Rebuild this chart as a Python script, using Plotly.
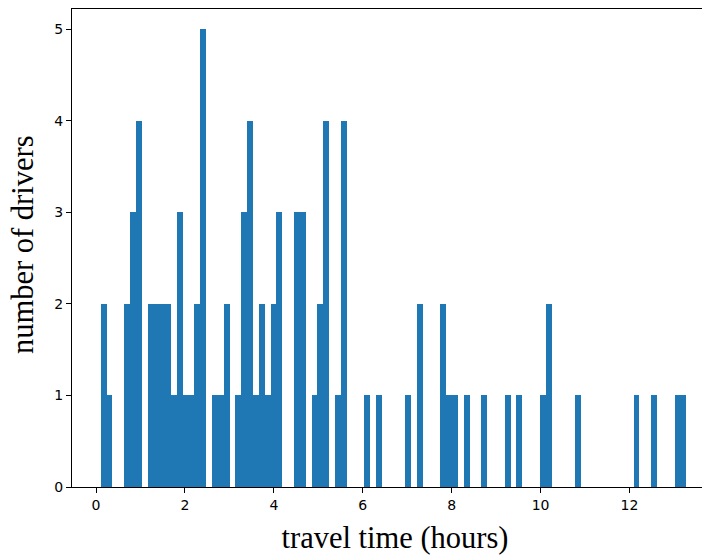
import plotly.graph_objects as go

# histogram data (travel time in hours): 100 equal bins
bin_start = 0.106
bin_width = 0.1317
counts = [2, 1, 0, 0, 2, 3, 4, 0, 2, 2,
          2, 2, 1, 3, 1, 1, 2, 5, 0, 1,
          1, 2, 0, 1, 3, 4, 1, 2, 1, 2,
          3, 0, 0, 3, 3, 0, 1, 2, 4, 0,
          1, 4, 0, 0, 0, 1, 0, 1, 0, 0,
          0, 0, 1, 0, 2, 0, 0, 0, 2, 1,
          1, 0, 1, 0, 0, 1, 0, 0, 0, 1,
          0, 1, 0, 0, 0, 1, 2, 0, 0, 0,
          0, 1, 0, 0, 0, 0, 0, 0, 0, 0,
          0, 1, 0, 0, 1, 0, 0, 0, 1, 1]
x_ticks = [0, 2, 4, 6, 8, 10, 12]
y_ticks = [0, 1, 2, 3, 4, 5]
x_title = "travel time (hours)"
y_title = "number of drivers"

centers = [bin_start + bin_width * (i + 0.5) for i in range(len(counts))]

fig = go.Figure(go.Bar(
    x=centers, y=counts, width=[bin_width] * len(counts),
    marker=dict(color="#1f77b4", line=dict(width=0)),
    hoverinfo="x+y",
))

tickfont = dict(family="DejaVu Sans", size=14, color="#000000")
titlefont = dict(family="Liberation Serif", size=30.5, color="#000000")
fig.update_layout(
    width=710, height=560,
    margin=dict(l=64, r=0, t=1, b=81, autoexpand=False),
    plot_bgcolor="white", paper_bgcolor="white",
    bargap=0, showlegend=False,
    xaxis=dict(
        range=[-0.540, 13.99], tickvals=x_ticks, ticktext=[str(v) for v in x_ticks],
        showline=True, linecolor="#000000", linewidth=1, mirror=True,
        ticks="outside", ticklen=5, tickcolor="#000000", tickwidth=1,
        showgrid=False, zeroline=False, tickfont=tickfont, automargin=False,
        title=dict(text=x_title, standoff=14, font=titlefont),
    ),
    yaxis=dict(
        range=[0, 5.22], tickvals=y_ticks, ticktext=[str(v) for v in y_ticks],
        showline=True, linecolor="#000000", linewidth=1, mirror=False,
        ticks="outside", ticklen=5, tickcolor="#000000", tickwidth=1,
        showgrid=False, zeroline=False, tickfont=tickfont, automargin=False,
    ),
    annotations=[dict(
        text=y_title, textangle=-90, font=titlefont,
        xref="paper", yref="paper", x=0, y=0.5,
        xanchor="center", yanchor="middle", xshift=-49, yshift=3,
        showarrow=False,
    )],
)

fig.write_html("out.html")
